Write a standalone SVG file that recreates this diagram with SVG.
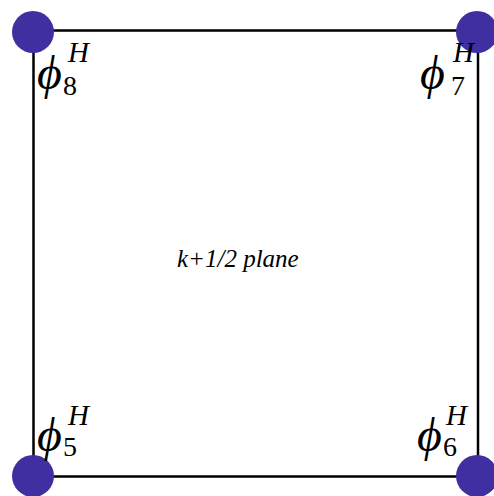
<svg xmlns="http://www.w3.org/2000/svg" width="494" height="496" viewBox="0 0 494 496">
<style>
.edge{stroke:#000;stroke-width:2.5;fill:none}
.dot{fill:#3f2fa0}
.phi{font-family:"Liberation Serif",serif;font-style:italic;font-size:48px;fill:#000}
.sub{font-family:"Liberation Serif",serif;font-size:28px;fill:#000}
.sup{font-family:"Liberation Serif",serif;font-style:italic;font-size:29px;fill:#000}
.lbl{font-family:"Liberation Serif",serif;font-style:italic;font-size:25px;fill:#000}
</style>
<rect width="494" height="496" fill="#fff"/>
<g id="connectors">
<path class="edge" d="M33.5 30.5 H478 V476.5 H33.5 Z"/>
</g>
<g id="node8">
<circle class="dot" cx="33" cy="32" r="21"/>
<text class="phi" x="37" y="89">ϕ</text>
<text class="sub" x="63" y="95">8</text>
<text class="sup" x="68" y="62">H</text>
</g>
<g id="node7">
<circle class="dot" cx="477" cy="32" r="21"/>
<text class="phi" x="420" y="89">ϕ</text>
<text class="sub" x="451" y="95">7</text>
<text class="sup" x="453" y="62">H</text>
</g>
<g id="node5">
<circle class="dot" cx="33" cy="476" r="21"/>
<text class="phi" x="37" y="451">ϕ</text>
<text class="sub" x="63" y="456">5</text>
<text class="sup" x="68" y="425">H</text>
</g>
<g id="node6">
<circle class="dot" cx="477" cy="476" r="21"/>
<text class="phi" x="417" y="451">ϕ</text>
<text class="sub" x="443" y="456">6</text>
<text class="sup" x="446" y="425">H</text>
</g>
<g id="center">
<text class="lbl" x="177" y="267">k+1/2 plane</text>
</g>
</svg>
